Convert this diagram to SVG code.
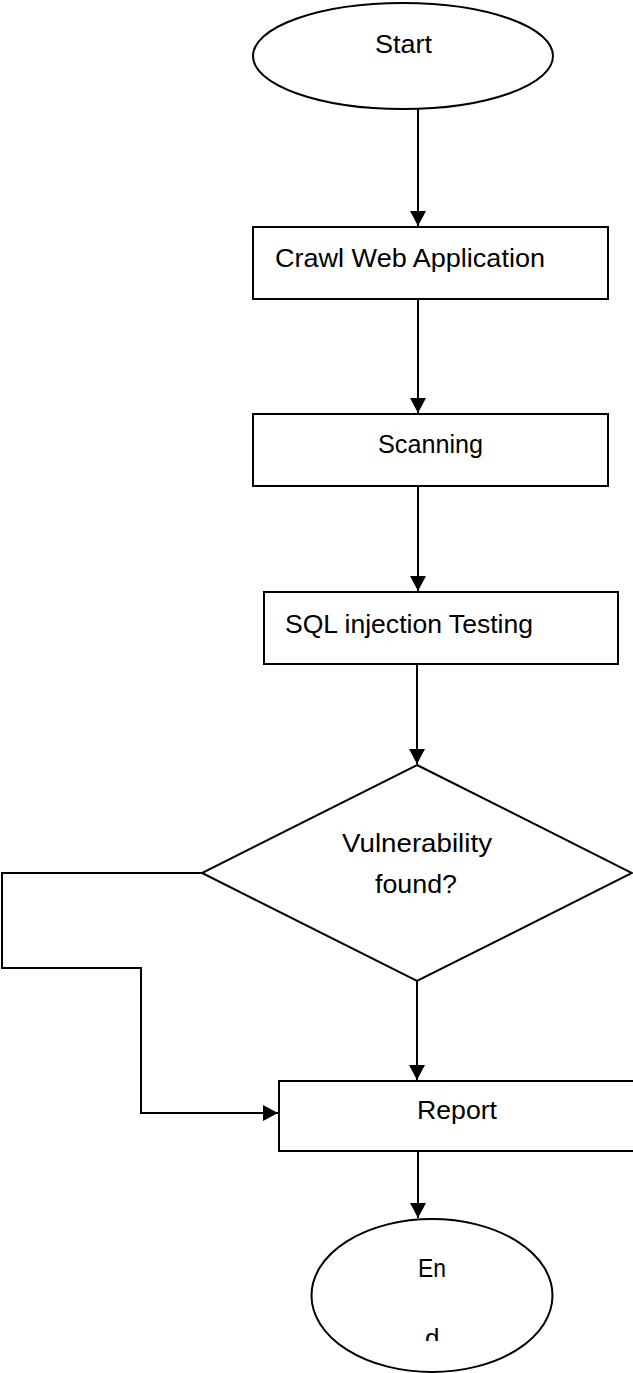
<svg xmlns="http://www.w3.org/2000/svg" width="633" height="1373" viewBox="0 0 633 1373">
<style>
.shape{fill:#fff;stroke:#000;stroke-width:2}
.conn{fill:none;stroke:#000;stroke-width:2}
.lbl{font-family:"Liberation Sans",Arial,sans-serif;font-size:26px;fill:#000}
</style>
<defs>
<marker id="arr" markerUnits="userSpaceOnUse" markerWidth="16" markerHeight="16" viewBox="0 0 16 16" refX="15" refY="8" orient="auto">
<path d="M0,0 L15,8 L0,16 Z" fill="#000"/>
</marker>
<clipPath id="clipD"><rect x="300" y="1290" width="300" height="51"/></clipPath>
</defs>
<rect width="633" height="1373" fill="#fff"/>
<g id="connectors">
<line class="conn" x1="418" y1="109" x2="418" y2="226" marker-end="url(#arr)"/>
<line class="conn" x1="418" y1="299" x2="418" y2="413" marker-end="url(#arr)"/>
<line class="conn" x1="418" y1="486" x2="418" y2="591" marker-end="url(#arr)"/>
<line class="conn" x1="417" y1="664" x2="417" y2="764" marker-end="url(#arr)"/>
<line class="conn" x1="417" y1="981" x2="417" y2="1080" marker-end="url(#arr)"/>
<polyline class="conn" points="202,873 2,873 2,968 141,968 141,1113 278,1113" marker-end="url(#arr)"/>
<line class="conn" x1="418" y1="1151" x2="418" y2="1218" marker-end="url(#arr)"/>
</g>
<g id="start">
<ellipse class="shape" cx="403" cy="56" rx="150" ry="53"/>
<text class="lbl" x="375" y="53" textLength="57" lengthAdjust="spacingAndGlyphs">Start</text>
</g>
<g id="crawl">
<rect class="shape" x="253" y="227" width="355" height="72"/>
<text class="lbl" x="275" y="267" textLength="270" lengthAdjust="spacingAndGlyphs">Crawl Web Application</text>
</g>
<g id="scanning">
<rect class="shape" x="253" y="414" width="355" height="72"/>
<text class="lbl" x="378" y="453" textLength="105" lengthAdjust="spacingAndGlyphs">Scanning</text>
</g>
<g id="sql">
<rect class="shape" x="264" y="592" width="354" height="72"/>
<text class="lbl" x="285" y="633" textLength="248" lengthAdjust="spacingAndGlyphs">SQL injection Testing</text>
</g>
<g id="decision">
<polygon class="shape" points="417,765 632,873 417,981 202,873"/>
<text class="lbl" x="342" y="852" textLength="150" lengthAdjust="spacingAndGlyphs">Vulnerability</text>
<text class="lbl" x="375" y="893" textLength="82" lengthAdjust="spacingAndGlyphs">found?</text>
</g>
<g id="report">
<rect class="shape" x="279" y="1081" width="360" height="70"/>
<text class="lbl" x="417" y="1119" textLength="80" lengthAdjust="spacingAndGlyphs">Report</text>
</g>
<g id="end">
<ellipse class="shape" cx="432" cy="1295.5" rx="120.5" ry="76.5"/>
<text class="lbl" x="418" y="1277" textLength="28" lengthAdjust="spacingAndGlyphs">En</text>
<text class="lbl" x="425" y="1347" clip-path="url(#clipD)">d</text>
</g>
</svg>
